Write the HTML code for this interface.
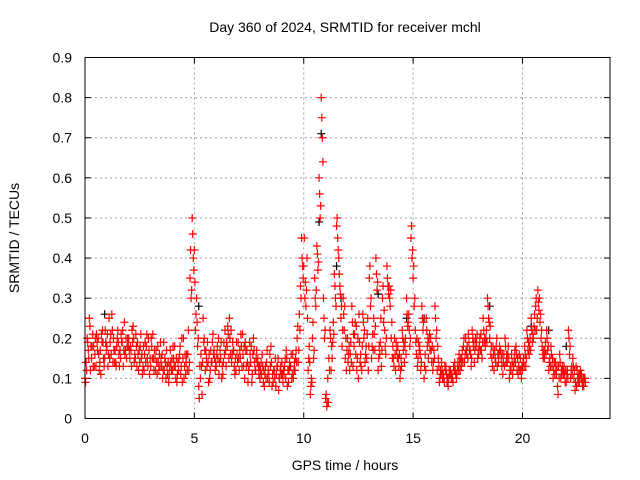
<!DOCTYPE html>
<html><head><meta charset="utf-8"><style>
html,body{margin:0;padding:0;background:#fff;}
svg{display:block;font-family:"Liberation Sans",sans-serif;}
</style></head><body>
<svg id="chart" width="640" height="480">
<text x="345" y="32" font-size="14" text-anchor="middle">Day 360 of 2024, SRMTID for receiver mchl</text>
<text x="345" y="470" font-size="14" text-anchor="middle">GPS time / hours</text>
<text transform="translate(19,238) rotate(-90)" font-size="14" text-anchor="middle">SRMTID / TECUs</text>
<g id="grid"></g>
<g id="ticks"></g>
<g id="pts"></g>
<rect x="85" y="57.5" width="525" height="361" fill="none" stroke="#000" stroke-width="1"/>
</svg>
<script>
const xTicks=[0,5,10,15,20];
const yTicks=[0,0.1,0.2,0.3,0.4,0.5,0.6,0.7,0.8,0.9];
const tStart=0, tStep=0.1;
const red1=[0.10,0.20,0.25,0.15,0.18,0.13,0.20,0.17,0.22,0.15,
0.18,0.25,0.16,0.20,0.14,0.22,0.17,0.19,0.24,0.15,
0.20,0.17,0.23,0.15,0.19,0.14,0.16,0.12,0.18,0.20,
0.13,0.21,0.15,0.11,0.16,0.13,0.19,0.10,0.14,0.17,
0.12,0.18,0.09,0.15,0.13,0.20,0.11,0.16,0.35,0.50,
0.42,0.30,0.08,0.16,0.25,0.12,0.19,0.10,0.14,0.17,
0.13,0.20,0.15,0.11,0.22,0.18,0.25,0.14,0.17,0.12,
0.19,0.15,0.21,0.10,0.17,0.13,0.18,0.20,0.12,0.15,
0.10,0.16,0.08,0.14,0.11,0.18,0.09,0.15,0.13,0.10,
0.14,0.11,0.17,0.09,0.13,0.16,0.12,0.20,0.26,0.45,
0.38,0.28,0.12,0.06,0.20,0.35,0.43,0.60,0.80,0.30,
0.05,0.10,0.22,0.15,0.36,0.48,0.40,0.25,0.30,0.15,
0.20,0.12,0.28,0.18,0.23,0.10,0.16,0.26,0.14,0.21,
0.35,0.15,0.25,0.40,0.12,0.19,0.30,0.22,0.38,0.33,
0.20,0.15,0.12,0.18,0.10,0.22,0.14,0.30,0.26,0.45,
0.35,0.22,0.13,0.18,0.28,0.10,0.25,0.15,0.20,0.12,
0.28,0.12,0.09,0.14,0.10,0.13,0.08,0.12,0.10,0.14,
0.11,0.16,0.13,0.18,0.20,0.15,0.17,0.22,0.14,0.19,
0.16,0.21,0.25,0.18,0.30,0.20,0.15,0.12,0.18,0.14,
0.17,0.11,0.20,0.14,0.10,0.16,0.13,0.18,0.11,0.15,
0.12,0.18,0.22,0.16,0.25,0.20,0.28,0.32,0.24,0.18,
0.15,0.22,0.12,0.18,0.10,0.14,0.08,0.16,0.11,0.13,
0.09,0.22,0.10,0.15,0.07,0.12,0.09,0.11,0.08];
const red2=[0.14,0.17,0.12,0.21,0.16,0.19,0.12,0.21,0.15,0.19,
0.13,0.19,0.22,0.14,0.18,0.16,0.21,0.13,0.17,0.20,
0.15,0.22,0.14,0.18,0.12,0.21,0.13,0.19,0.15,0.11,
0.18,0.12,0.17,0.14,0.19,0.10,0.15,0.13,0.11,0.12,
0.15,0.10,0.14,0.18,0.09,0.13,0.16,0.12,0.30,0.40,
0.22,0.18,0.13,0.06,0.20,0.15,0.09,0.17,0.21,0.12,
0.18,0.14,0.10,0.19,0.13,0.21,0.16,0.19,0.11,0.16,
0.12,0.18,0.13,0.17,0.09,0.16,0.11,0.14,0.17,0.11,
0.14,0.09,0.13,0.10,0.16,0.08,0.12,0.11,0.07,0.13,
0.09,0.15,0.08,0.14,0.10,0.12,0.17,0.14,0.33,0.38,
0.30,0.40,0.18,0.10,0.15,0.28,0.37,0.50,0.70,0.20,
0.03,0.15,0.12,0.24,0.30,0.45,0.33,0.18,0.22,0.12,
0.16,0.19,0.13,0.24,0.15,0.19,0.12,0.20,0.18,0.12,
0.28,0.21,0.17,0.32,0.18,0.13,0.24,0.16,0.33,0.28,
0.15,0.20,0.17,0.13,0.15,0.17,0.20,0.23,0.18,0.40,
0.28,0.16,0.19,0.12,0.22,0.16,0.18,0.21,0.14,0.17,
0.20,0.15,0.12,0.10,0.13,0.09,0.12,0.10,0.13,0.11,
0.14,0.12,0.17,0.14,0.16,0.19,0.13,0.18,0.20,0.15,
0.20,0.15,0.19,0.22,0.25,0.16,0.18,0.15,0.13,0.18,
0.13,0.16,0.14,0.18,0.13,0.11,0.17,0.12,0.16,0.10,
0.15,0.13,0.17,0.20,0.19,0.26,0.22,0.27,0.20,0.15,
0.19,0.17,0.15,0.13,0.14,0.11,0.13,0.10,0.12,0.09,
0.12,0.16,0.13,0.10,0.13,0.09,0.12,0.08,0.10];
const red3=[0.09,0.19,0.23,0.18,0.13,0.21,0.16,0.11,0.19,0.22,
0.21,0.15,0.26,0.17,0.13,0.19,0.15,0.22,0.16,0.18,
0.17,0.13,0.20,0.21,0.16,0.18,0.11,0.16,0.21,0.17,
0.20,0.15,0.12,0.18,0.13,0.16,0.12,0.17,0.09,0.14,
0.18,0.13,0.11,0.16,0.20,0.10,0.14,0.22,0.42,0.46,
0.34,0.24,0.05,0.13,0.19,0.17,0.14,0.12,0.19,0.15,
0.16,0.11,0.19,0.14,0.17,0.23,0.20,0.16,0.13,0.19,
0.15,0.21,0.16,0.19,0.14,0.19,0.09,0.17,0.15,0.13,
0.12,0.13,0.11,0.17,0.09,0.14,0.12,0.08,0.15,0.12,
0.11,0.13,0.15,0.12,0.16,0.10,0.15,0.23,0.22,0.40,
0.45,0.32,0.15,0.08,0.24,0.30,0.41,0.56,0.75,0.25,
0.06,0.04,0.20,0.19,0.33,0.50,0.36,0.28,0.26,0.20,
0.14,0.16,0.24,0.21,0.12,0.26,0.13,0.24,0.16,0.25,
0.38,0.18,0.21,0.36,0.15,0.25,0.33,0.18,0.35,0.30,
0.24,0.13,0.19,0.15,0.12,0.20,0.18,0.26,0.22,0.48,
0.38,0.19,0.15,0.16,0.25,0.13,0.22,0.19,0.17,0.14,
0.25,0.18,0.10,0.12,0.09,0.11,0.10,0.11,0.09,0.12,
0.13,0.14,0.15,0.20,0.17,0.21,0.16,0.20,0.17,0.21,
0.18,0.17,0.22,0.20,0.28,0.23,0.13,0.17,0.20,0.16,
0.15,0.14,0.18,0.16,0.12,0.14,0.15,0.16,0.13,0.12,
0.14,0.16,0.20,0.18,0.22,0.23,0.30,0.29,0.26,0.16,
0.17,0.20,0.14,0.16,0.12,0.12,0.06,0.14,0.13,0.11,
0.11,0.20,0.12,0.13,0.09,0.10,0.11,0.09,0.10];
const red4=[0.12,0.15,0.18,0.13,0.20,0.17,0.14,0.19,0.13,0.17,
0.16,0.21,0.14,0.17,0.20,0.13,0.19,0.17,0.20,0.18,
0.18,0.19,0.16,0.13,0.17,0.15,0.18,0.14,0.13,0.15,
0.15,0.17,0.14,0.12,0.15,0.12,0.14,0.11,0.13,0.15,
0.13,0.15,0.12,0.11,0.15,0.16,0.12,0.14,0.32,0.37,
0.26,0.20,0.10,0.14,0.17,0.13,0.16,0.14,0.16,0.14,
0.15,0.17,0.13,0.16,0.19,0.15,0.22,0.17,0.15,0.14,
0.17,0.13,0.18,0.13,0.12,0.14,0.16,0.12,0.14,0.13,
0.11,0.12,0.10,0.12,0.13,0.11,0.10,0.13,0.10,0.11,
0.12,0.10,0.12,0.13,0.11,0.14,0.14,0.17,0.30,0.35,
0.34,0.25,0.14,0.09,0.17,0.32,0.39,0.53,0.64,0.22,
0.04,0.12,0.18,0.21,0.28,0.42,0.31,0.22,0.28,0.17,
0.18,0.14,0.21,0.16,0.20,0.14,0.18,0.22,0.15,0.18,
0.30,0.17,0.23,0.34,0.16,0.17,0.27,0.20,0.31,0.32,
0.18,0.16,0.15,0.16,0.13,0.19,0.16,0.24,0.20,0.42,
0.30,0.20,0.17,0.14,0.24,0.12,0.20,0.17,0.18,0.15,
0.22,0.13,0.11,0.11,0.12,0.10,0.11,0.11,0.12,0.10,
0.12,0.15,0.14,0.16,0.18,0.17,0.15,0.19,0.18,0.17,
0.17,0.19,0.20,0.19,0.24,0.18,0.16,0.14,0.16,0.17,
0.16,0.13,0.16,0.15,0.12,0.13,0.14,0.15,0.12,0.13,
0.13,0.15,0.19,0.17,0.21,0.22,0.25,0.30,0.22,0.17,
0.16,0.18,0.13,0.15,0.11,0.13,0.10,0.12,0.11,0.12,
0.10,0.18,0.11,0.12,0.08,0.11,0.10,0.10,0.09];
const blackT=[0.9,5.2,10.7,10.8,11.5,11.7,13.4,14.7,15.5,18.5,20.4,21.2,22.0];
const blackV=[0.26,0.28,0.49,0.71,0.38,0.30,0.31,0.25,0.25,0.28,0.23,0.22,0.18];

const X0=85,X1=610,Y0=418.5,Y1=57.5,XMAX=24,YMAX=0.9;
const xs=v=>X0+(X1-X0)*v/XMAX;
const ys=v=>Y0-(Y0-Y1)*v/YMAX;
const NS="http://www.w3.org/2000/svg";
function mk(tag,attrs,parent){const e=document.createElementNS(NS,tag);for(const k in attrs)e.setAttribute(k,attrs[k]);parent.appendChild(e);return e;}
const grid=document.getElementById('grid'),ticks=document.getElementById('ticks'),pts=document.getElementById('pts');
xTicks.forEach(t=>{
  const x=xs(t);
  if(t>0){const g=mk('line',{x1:x,x2:x,y1:Y1,y2:Y0,stroke:'#a0a0a0','stroke-dasharray':'2,3'},grid);
  
  }
  mk('line',{x1:x,x2:x,y1:Y0,y2:Y0-6,stroke:'#000'},ticks);
  mk('line',{x1:x,x2:x,y1:Y1,y2:Y1+6,stroke:'#000'},ticks);
  const l=mk('text',{x:x,y:443,'font-size':14,'text-anchor':'middle'},ticks);l.textContent=t;
  
  
});
yTicks.forEach(t=>{
  const y=ys(t);
  if(t>0&&t<0.9){const g=mk('line',{x1:X0,x2:X1,y1:y,y2:y,stroke:'#a0a0a0','stroke-dasharray':'2,3'},grid);
  
  }
  mk('line',{x1:X0,x2:X0+6,y1:y,y2:y,stroke:'#000'},ticks);
  mk('line',{x1:X1,x2:X1-6,y1:y,y2:y,stroke:'#000'},ticks);
  const l=mk('text',{x:72,y:y+5,'font-size':14,'text-anchor':'end'},ticks);l.textContent=(t===0?'0':t.toFixed(1));
  
  
});
function plus(t,v,color,name){
  const x=xs(t),y=ys(v);
  const p=mk('path',{d:`M${x-4},${y}H${x+4}M${x},${y-4}V${y+4}`,stroke:color,'stroke-width':1.2,fill:'none'},pts);
  
  
}
blackT.forEach((t,i)=>plus(t,blackV[i],'#000','black-point'));
red1.forEach((v,i)=>plus(tStart+i*tStep,v,'#f00','red-point'));
red3.forEach((v,i)=>plus(tStart+i*tStep+0.025,v,'#f00','red-point'));
red2.forEach((v,i)=>plus(tStart+i*tStep+0.05,v,'#f00','red-point'));
red4.forEach((v,i)=>plus(tStart+i*tStep+0.075,v,'#f00','red-point'));
</script>
</body></html>
